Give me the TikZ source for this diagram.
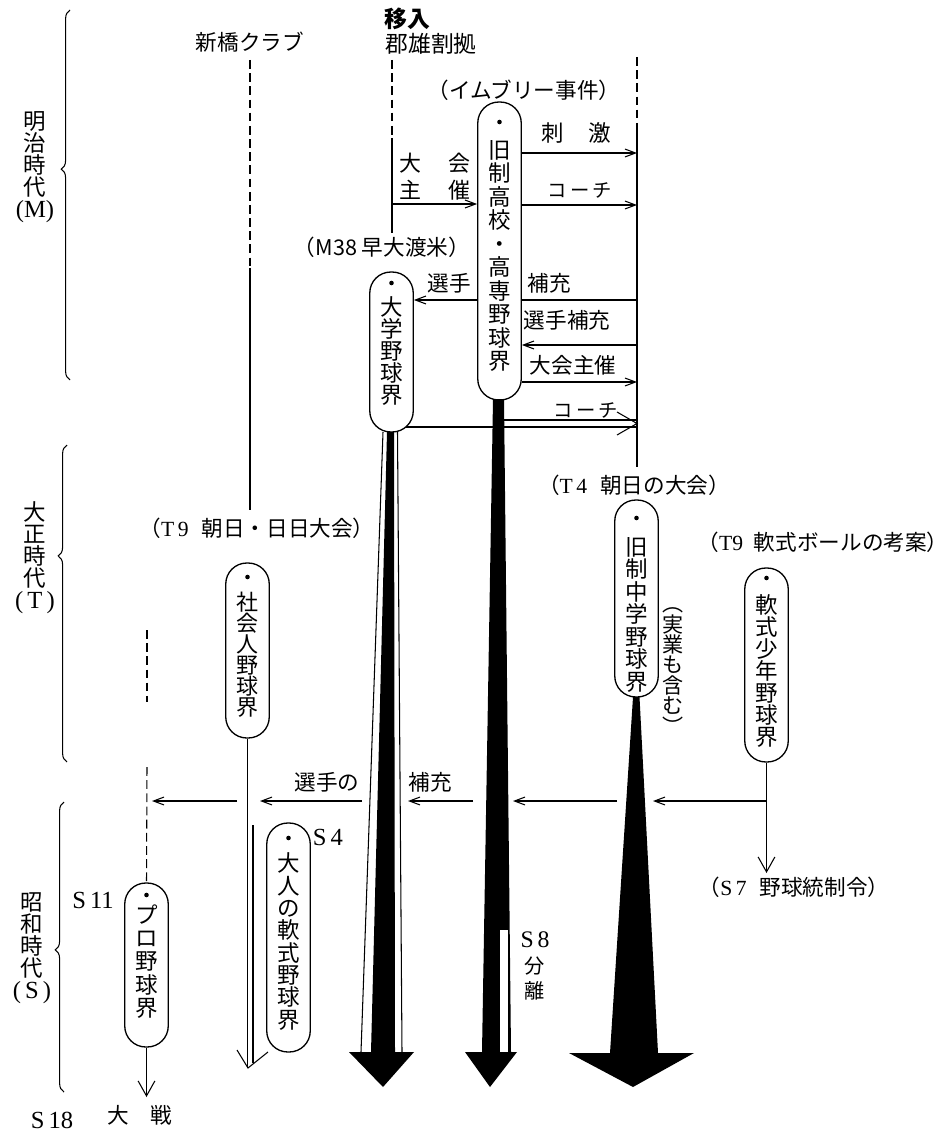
\documentclass[tikz,border=0pt]{standalone}
\usepackage{fontspec}
\setmainfont{Liberation Serif}
\newfontfamily\jp{Noto Sans CJK JP}
\usetikzlibrary{arrows.meta,decorations.pathreplacing}
\begin{document}
\begin{tikzpicture}[x=0.02cm, y=-0.02cm,
  every node/.style={font=\jp\fontsize{12.3}{13}\selectfont, inner sep=0pt},
  ln/.style={line width=0.6pt},
  arr/.style={ln, -{Straight Barb[length=6pt,width=4.5pt]}},
  bigarr/.style={ln, -{Straight Barb[length=8.5pt,width=9.5pt]}},
  dsh/.style={ln, dash pattern=on 5pt off 2.5pt},
  pill/.style={draw, line width=0.75pt, rounded corners=0.42cm, minimum width=0.87cm},
  vt/.style={align=center, font=\jp\fontsize{12.8}{12.5}\selectfont},
  lat/.style={font=\rmfamily\fontsize{14}{14}\selectfont},
  brc/.style={ln, decorate, decoration={brace, amplitude=5pt, aspect=#1}},
]
\useasboundingbox (0,0) rectangle (952,1131);

% ---------- period labels and braces ----------
\node[vt] (meiji) at (35,167) {明\\治\\時\\代\\{\rmfamily\fontsize{14}{12.5}\selectfont (M)}};
\node[vt] (taisho) at (35,558) {大\\正\\時\\代\\{\rmfamily\fontsize{14}{12.5}\selectfont (\,T\,)}};
\node[vt] (showa) at (32,948) {昭\\和\\時\\代\\{\rmfamily\fontsize{14}{12.5}\selectfont (\,S\,)}};
\draw[brc=0.57] (70,380) -- (70,10);
\draw[brc=0.65] (67,762) -- (67,445);
\draw[brc=0.49] (64,1092) -- (64,802);

% ---------- top labels and vertical lines ----------
\node (shinbashi) at (250,42) {新橋クラブ};
\node[font=\jp\bfseries\fontsize{13}{14}\selectfont] (inyu) at (407,19) {移入};
\node[font=\jp\fontsize{13}{14}\selectfont] (gunyu) at (431,44) {郡雄割拠};
\coordinate (sbTop) at (250,60);
\coordinate (sbMid) at (250,268);
\coordinate (sbEnd) at (250,510);
\draw[dsh] (sbTop) -- (sbMid);
\draw[ln] (sbMid) -- (sbEnd);
\coordinate (gTop) at (392,60);
\coordinate (gMid) at (392,138);
\coordinate (gEnd) at (392,233);
\draw[dsh] (gTop) -- (gMid);
\draw[ln] (gMid) -- (gEnd);
\coordinate (RL) at (637,0);
\coordinate (rTop) at (637,57);
\coordinate (rMid) at (637,127);
\coordinate (rEnd) at (637,467);
\draw[dsh] (rTop) -- (rMid);
\draw[ln] (rMid) -- (rEnd);

% ---------- pills ----------
\node[pill, minimum height=5.96cm] (kosen) at (499.5,251) {};
\fill (499.5,122) circle (1.3pt);
\node[vt, font=\jp\fontsize{12.8}{13.4}\selectfont] (kosenT) at (499.5,256) {旧\\制\\高\\校\\・\\高\\専\\野\\球\\界};

\node[pill, minimum height=3.2cm] (daigaku) at (391.5,352) {};
\fill (391.5,283) circle (1.3pt);
\node[vt] (daigakuT) at (391.5,351) {大\\学\\野\\球\\界};

\node[pill, minimum height=3.5cm] (shakai) at (247.5,650.5) {};
\fill (247.5,577) circle (1.3pt);
\node[vt, font=\jp\fontsize{12.5}{12}\selectfont] (shakaiT) at (247.5,654.5) {社\\会\\人\\野\\球\\界};

\node[pill, minimum height=3.94cm] (chugaku) at (636.5,598.5) {};
\fill (636.5,518) circle (1.3pt);
\node[vt, font=\jp\fontsize{12.8}{12.8}\selectfont] (chugakuT) at (636.5,614.5) {旧\\制\\中\\学\\野\\球\\界};
\node[vt, font=\jp\fontsize{12}{11.6}\selectfont] (jitsugyo) at (673,671) {︵\\実\\業\\も\\含\\む\\︶};

\node[pill, minimum height=3.88cm] (shonen) at (766.5,665) {};
\fill (766.5,578) circle (1.3pt);
\node[vt] (shonenT) at (766.5,671) {軟\\式\\少\\年\\野\\球\\界};

\node[pill, minimum height=4.58cm] (otona) at (288.5,937.5) {};
\fill (288.5,838) circle (1.3pt);
\node[vt, font=\jp\fontsize{12.8}{12.7}\selectfont] (otonaT) at (288.5,941.5) {大\\人\\の\\軟\\式\\野\\球\\界};

\node[pill, minimum height=3.28cm] (pro) at (146.5,965) {};
\fill (146.5,895) circle (1.3pt);
\node[vt, font=\jp\fontsize{12.8}{13.2}\selectfont] (proT) at (146.5,961.5) {プ\\ロ\\野\\球\\界};

% ---------- labels ----------
\node (imbrie) at (524,90) {（イムブリー事件）};
\node[align=center, font=\jp\fontsize{12.5}{15.4}\selectfont] (taikaiL) at (435,177) {大\hspace{1.2em}会\\主\hspace{1.2em}催};
\node[font=\jp\fontsize{12.8}{13}\selectfont] (shigeki) at (576,133) {刺\hspace{1.1em}激};
\node[font=\jp\fontsize{11}{12}\selectfont] (coach1) at (580,190) {コ\,ー\,チ};
\node (senshu) at (449,283) {選手};
\node (hoju) at (549,283) {補充};
\node (senshuhoju) at (567,320) {選手補充};
\node (taikaishusai) at (573,365) {大会主催};
\node[font=\jp\fontsize{11}{12}\selectfont] (coach2) at (586,410) {コ\,ー\,チ};
\node (m38) at (382,247) {（M38 早大渡米）};
\node (t4) at (634,485) {（{\rmfamily T\,4}\hspace{0.6em}朝日の大会）};
\node (t9a) at (257,528) {（{\rmfamily T\,9}\hspace{0.6em}朝日・日日大会）};
\node (t9b) at (823,542) {（{\rmfamily T9}\hspace{0.5em}軟式ボールの考案）};
\node (senshuno) at (327,782) {選手の};
\node (hoju2) at (430,782) {補充};
\node[lat] (s4) at (328,837) {S\,4};
\node[lat] (s11) at (93,900) {S\,11};
\node (s7) at (794,887) {（{\rmfamily S\,7}\hspace{0.6em}野球統制令）};
\node[align=center, font=\jp\fontsize{11.5}{14.5}\selectfont] (s8) at (535,966) {{\rmfamily\fontsize{13.5}{14.5}\selectfont S\,8}\\分\\離};
\node (taisen) at (140,1115) {大\hspace{1em}戦};
\node[lat] (s18) at (52,1120) {S\,18};

% ---------- horizontal connectors (upper) ----------
\draw[arr] (gMid |- 0,204) -- (kosen.west |- 0,204);
\draw[arr] (kosen.east |- 0,153) -- (RL |- 0,153);
\draw[arr] (kosen.east |- 0,205) -- (RL |- 0,205);
\draw[ln] (RL |- 0,300) -- (kosen.east |- 0,300);
\draw[arr] (kosen.west |- 0,300) -- (daigaku.east |- 0,300);
\draw[arr] (RL |- 0,345) -- (kosen.east |- 0,345);
\draw[arr] (kosen.east |- 0,382) -- (RL |- 0,382);
\coordinate (cA) at (406,427);
\coordinate (cB) at (504,420);
\draw[ln] (cA) -- (RL |- 0,427);
\draw[ln] (cB) -- (RL |- 0,420);
\draw[ln] (617,412) -- (RL |- 0,423.5) -- (617,435);

% ---------- big arrows ----------
% university
\draw[ln] (383,432) -- (361,1052);
\fill (387,432) -- (394,432) -- (395,1052) -- (371,1052) -- cycle;
\draw[ln] (397.5,432) -- (402,1052);
\fill (349,1052) -- (414,1052) -- (383,1087) -- cycle;
% higher school
\fill (493,399) -- (504,399) -- (511,1052) -- (482,1052) -- cycle;
\fill[white] (500,930) rectangle (507.5,1052);
\fill (465,1052) -- (517,1052) -- (490,1087) -- cycle;
% middle school
\fill (633,697) -- (639.5,697) -- (658,1053) -- (610,1053) -- cycle;
\fill (569,1053) -- (694,1053) -- (633,1087) -- cycle;

% ---------- lower connectors ----------
\draw[arr] (shonen.south |- 0,801) -- (653,801);
\draw[arr] (617,801) -- (513,801);
\draw[arr] (473,801) -- (408,801);
\draw[arr] (362,801) -- (260,801);
\draw[arr] (237,801) -- (152,801);
\draw[bigarr] (shonen.south) -- (766.5,873);
\draw[bigarr] (pro.south) -- (146.5,1097);
\draw[dsh] (147,630) -- (147,702);
\draw[dsh] (147,767) -- (pro.north);
\draw[ln] (shakai.south) -- (247.5,1068);
\draw[ln] (253,825) -- (253,1063);
\draw[ln] (237,1050) -- (248,1068) -- (268,1052);
\end{tikzpicture}
\end{document}
